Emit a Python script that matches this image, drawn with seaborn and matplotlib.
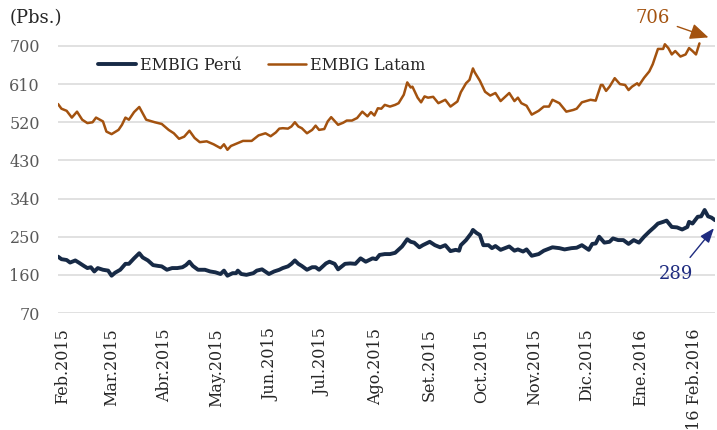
import pandas as pd
import matplotlib
matplotlib.use("Agg")
import matplotlib.pyplot as plt
import matplotlib.dates as mdates
import matplotlib.transforms as mtrans
import seaborn as sns

# ── Datos ────────────────────────────────────────────────────────────────────
fechas_latam = [
    "2015-02-01", "2015-02-03", "2015-02-06", "2015-02-09", "2015-02-12", "2015-02-15",
    "2015-02-18", "2015-02-21", "2015-02-23", "2015-02-27", "2015-03-01", "2015-03-04",
    "2015-03-08", "2015-03-10", "2015-03-12", "2015-03-14", "2015-03-17", "2015-03-20",
    "2015-03-22", "2015-03-24", "2015-03-29", "2015-04-02", "2015-04-06", "2015-04-09",
    "2015-04-12", "2015-04-15", "2015-04-18", "2015-04-21", "2015-04-24", "2015-04-28",
    "2015-05-02", "2015-05-06", "2015-05-08", "2015-05-10", "2015-05-12", "2015-05-16",
    "2015-05-19", "2015-05-24", "2015-05-28", "2015-06-01", "2015-06-04", "2015-06-07",
    "2015-06-09", "2015-06-11", "2015-06-14", "2015-06-16", "2015-06-18", "2015-06-20",
    "2015-06-22", "2015-06-25", "2015-06-28", "2015-06-30", "2015-07-02", "2015-07-05",
    "2015-07-07", "2015-07-09", "2015-07-13", "2015-07-16", "2015-07-18", "2015-07-21",
    "2015-07-24", "2015-07-27", "2015-07-30", "2015-08-01", "2015-08-03", "2015-08-05",
    "2015-08-07", "2015-08-09", "2015-08-12", "2015-08-15", "2015-08-17", "2015-08-20",
    "2015-08-22", "2015-08-24", "2015-08-25", "2015-08-28", "2015-08-30", "2015-09-01",
    "2015-09-03", "2015-09-06", "2015-09-09", "2015-09-13", "2015-09-16", "2015-09-20",
    "2015-09-22", "2015-09-25", "2015-09-27", "2015-09-29", "2015-09-30", "2015-10-03",
    "2015-10-06", "2015-10-09", "2015-10-12", "2015-10-15", "2015-10-20", "2015-10-23",
    "2015-10-25", "2015-10-27", "2015-10-30", "2015-11-02", "2015-11-06", "2015-11-09",
    "2015-11-12", "2015-11-14", "2015-11-18", "2015-11-22", "2015-11-26", "2015-11-28",
    "2015-12-01", "2015-12-06", "2015-12-09", "2015-12-12", "2015-12-13", "2015-12-15",
    "2015-12-17", "2015-12-20", "2015-12-23", "2015-12-26", "2015-12-28", "2015-12-30",
    "2016-01-02", "2016-01-03", "2016-01-06", "2016-01-09", "2016-01-11", "2016-01-12",
    "2016-01-14", "2016-01-17", "2016-01-18", "2016-01-20", "2016-01-22", "2016-01-24",
    "2016-01-27", "2016-01-30", "2016-02-01", "2016-02-03", "2016-02-05", "2016-02-07",
]
embig_latam = [
    563, 552, 547, 531, 545, 526, 518, 520, 531, 522, 498, 492,
    502, 514, 531, 526, 544, 556, 541, 526, 520, 516, 502, 494,
    481, 486, 500, 483, 473, 475, 468, 459, 468, 455, 464, 471,
    476, 476, 489, 494, 487, 496, 505, 506, 505, 510, 520, 510,
    506, 494, 502, 512, 502, 504, 522, 532, 514, 519, 524, 524,
    530, 545, 534, 544, 536, 553, 552, 561, 557, 561, 565, 585,
    614, 602, 604, 578, 567, 581, 578, 580, 565, 573, 557, 569,
    591, 612, 620, 647, 638, 618, 592, 583, 589, 570, 589, 570,
    578, 565, 559, 538, 547, 557, 557, 573, 565, 545, 549, 552,
    567, 573, 571, 608, 608, 594, 604, 624, 610, 608, 596, 604,
    612, 607, 625, 640, 657, 669, 693, 693, 704, 695, 680, 688,
    675, 680, 695, 688, 680, 706,
]

fechas_peru = [
    "2015-02-01", "2015-02-03", "2015-02-06", "2015-02-08", "2015-02-11", "2015-02-13",
    "2015-02-16", "2015-02-18", "2015-02-20", "2015-02-22", "2015-02-24", "2015-02-27",
    "2015-03-02", "2015-03-04", "2015-03-06", "2015-03-09", "2015-03-12", "2015-03-14",
    "2015-03-17", "2015-03-20", "2015-03-22", "2015-03-25", "2015-03-28", "2015-03-31",
    "2015-04-02", "2015-04-05", "2015-04-08", "2015-04-11", "2015-04-14", "2015-04-16",
    "2015-04-18", "2015-04-20", "2015-04-23", "2015-04-27", "2015-04-30", "2015-05-03",
    "2015-05-06", "2015-05-08", "2015-05-10", "2015-05-13", "2015-05-15", "2015-05-16",
    "2015-05-18", "2015-05-21", "2015-05-25", "2015-05-27", "2015-05-30", "2015-06-03",
    "2015-06-06", "2015-06-09", "2015-06-11", "2015-06-14", "2015-06-16", "2015-06-18",
    "2015-06-20", "2015-06-22", "2015-06-25", "2015-06-28", "2015-06-30", "2015-07-02",
    "2015-07-06", "2015-07-08", "2015-07-11", "2015-07-13", "2015-07-17", "2015-07-20",
    "2015-07-23", "2015-07-26", "2015-07-29", "2015-08-02", "2015-08-04", "2015-08-06",
    "2015-08-09", "2015-08-12", "2015-08-15", "2015-08-19", "2015-08-22", "2015-08-24",
    "2015-08-26", "2015-08-29", "2015-08-31", "2015-09-04", "2015-09-07", "2015-09-10",
    "2015-09-13", "2015-09-16", "2015-09-19", "2015-09-21", "2015-09-22", "2015-09-25",
    "2015-09-28", "2015-09-29", "2015-10-01", "2015-10-03", "2015-10-05", "2015-10-08",
    "2015-10-10", "2015-10-12", "2015-10-15", "2015-10-20", "2015-10-23", "2015-10-25",
    "2015-10-28", "2015-10-30", "2015-11-02", "2015-11-06", "2015-11-09", "2015-11-14",
    "2015-11-18", "2015-11-21", "2015-11-25", "2015-11-28", "2015-12-01", "2015-12-05",
    "2015-12-07", "2015-12-09", "2015-12-11", "2015-12-14", "2015-12-17", "2015-12-19",
    "2015-12-22", "2015-12-25", "2015-12-28", "2015-12-31", "2016-01-03", "2016-01-06",
    "2016-01-09", "2016-01-12", "2016-01-14", "2016-01-17", "2016-01-19", "2016-01-22",
    "2016-01-25", "2016-01-28", "2016-01-31", "2016-02-01", "2016-02-03", "2016-02-06",
    "2016-02-08", "2016-02-10", "2016-02-12", "2016-02-14", "2016-02-16",
]
embig_peru = [
    203, 197, 195, 189, 194, 189, 181, 176, 178, 168, 176, 172,
    170, 158, 165, 172, 186, 186, 199, 211, 201, 194, 183, 181,
    180, 172, 176, 176, 178, 183, 191, 181, 172, 172, 168, 166,
    162, 170, 158, 164, 164, 170, 162, 160, 164, 170, 173, 162,
    168, 172, 176, 180, 186, 194, 186, 181, 172, 178, 178, 172,
    187, 191, 186, 173, 186, 187, 186, 199, 191, 199, 197, 207,
    209, 209, 212, 227, 244, 238, 236, 225, 230, 238, 230, 225,
    230, 216, 219, 217, 230, 242, 258, 266, 259, 254, 230, 230,
    223, 228, 219, 227, 217, 220, 215, 220, 205, 209, 217, 225,
    223, 220, 223, 224, 230, 219, 233, 234, 250, 236, 238, 246,
    242, 242, 233, 242, 236, 250, 262, 273, 281, 285, 288, 273,
    272, 267, 273, 285, 281, 297, 298, 313, 298, 295, 289,
]

meses = pd.date_range("2015-02-01", "2016-02-01", freq="MS")
etiquetas_x = ["Feb.2015", "Mar.2015", "Abr.2015", "May.2015", "Jun.2015", "Jul.2015",
               "Ago.2015", "Set.2015", "Oct.2015", "Nov.2015", "Dic.2015", "Ene.2016",
               "16 Feb.2016"]
ticks_y = [70, 160, 250, 340, 430, 520, 610, 700]

COR_PERU = "#172A46"
COR_LATAM = "#A3520F"
COR_289 = "#1F2C80"

df_latam = pd.DataFrame({"fecha": pd.to_datetime(fechas_latam), "pbs": embig_latam})
df_peru = pd.DataFrame({"fecha": pd.to_datetime(fechas_peru), "pbs": embig_peru})

# ── Estilo ───────────────────────────────────────────────────────────────────
sns.set_style("white")
plt.rcParams["font.family"] = ["DejaVu Serif"]

fig = plt.figure(figsize=(7.17, 4.30), dpi=100)
ax = fig.add_axes([58 / 717, 1 - 313 / 430, 657 / 717, (313 - 39.6) / 430])

sns.lineplot(data=df_peru, x="fecha", y="pbs", color=COR_PERU, lw=2.8,
             label="EMBIG Perú", ax=ax)
sns.lineplot(data=df_latam, x="fecha", y="pbs", color=COR_LATAM, lw=1.8,
             label="EMBIG Latam", ax=ax)

ax.set_xlim(pd.Timestamp("2015-02-01"), pd.Timestamp("2016-02-16"))
ax.set_ylim(70, 715)
ax.set_yticks(ticks_y)
ax.set_xticks(meses)
ax.set_xticklabels(etiquetas_x, rotation=90, va="top", ha="center")
ax.set_xlabel("")
ax.set_ylabel("")
ax.grid(axis="y", color="#D9D9D9", lw=1.1)
ax.grid(axis="x", visible=False)
for s in ax.spines.values():
    s.set_visible(False)
ax.tick_params(axis="y", length=0, pad=13, labelsize=11.5, labelcolor="#595959")
ax.tick_params(axis="x", length=0, pad=11, labelsize=11.5, labelcolor="#262626")
desplaza = mtrans.ScaledTranslation(5 / 100, 0, fig.dpi_scale_trans)
for lab in ax.get_xticklabels():
    lab.set_transform(lab.get_transform() + desplaza)

ax.legend(loc="center", bbox_to_anchor=(0.31, 0.907), ncol=2, frameon=False,
          fontsize=11.5, handlelength=2.4, handletextpad=0.25, columnspacing=1.6)

fig.text(10 / 717, 1 - 18 / 430, "(Pbs.)", fontsize=13, color="#262626",
         ha="left", va="center")

# ── Anotaciones de último dato ───────────────────────────────────────────────
x_latam = mdates.date2num(df_latam["fecha"].iloc[-1])
x_peru = mdates.date2num(df_peru["fecha"].iloc[-1])

tr_latam = mtrans.offset_copy(ax.transData, fig=fig, x=9, y=6, units="dots")
ax.annotate(f"{embig_latam[-1]}", xy=(x_latam, embig_latam[-1]),
            xycoords=tr_latam, xytext=(-40, 14), textcoords="offset points",
            fontsize=13, color=COR_LATAM, ha="center", va="center",
            annotation_clip=False,
            arrowprops=dict(arrowstyle="-|>,head_length=0.8,head_width=0.35",
                            mutation_scale=14, color=COR_LATAM, lw=1,
                            shrinkA=3, shrinkB=0))

tr_peru = mtrans.offset_copy(ax.transData, fig=fig, x=-1, y=-8, units="dots")
ax.annotate(f"{embig_peru[-1]}", xy=(x_peru, embig_peru[-1]),
            xycoords=tr_peru, xytext=(-27, -33), textcoords="offset points",
            fontsize=13, color=COR_289, ha="center", va="center",
            annotation_clip=False,
            arrowprops=dict(arrowstyle="-|>,head_length=0.8,head_width=0.3",
                            mutation_scale=11, color=COR_289, lw=1,
                            shrinkA=4, shrinkB=0))

fig.savefig("out.png", dpi=100)
